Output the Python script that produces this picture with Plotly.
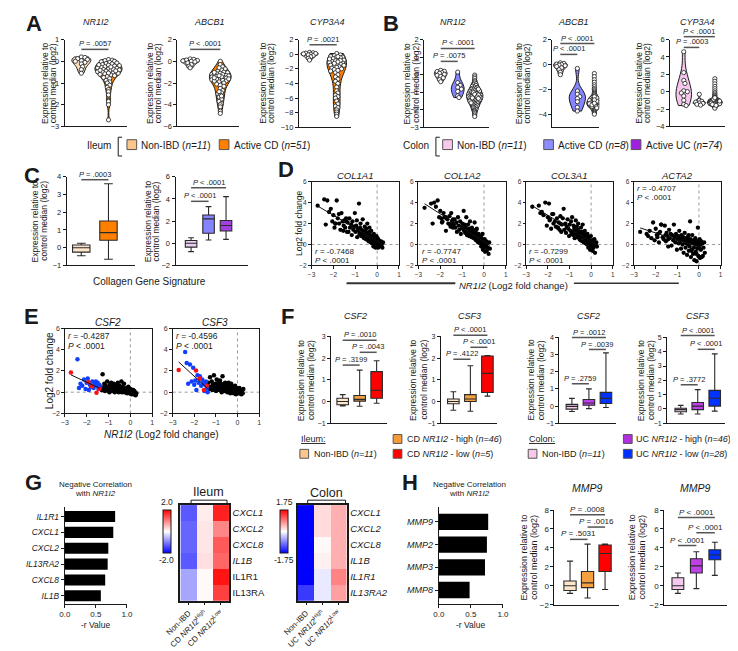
import numpy as np
import plotly.graph_objects as go

# ======================= DATA =======================
# ---- Panel A: ileum, violin (log2 expression vs control median)
A_NR1I2_NONIBD = [0.2, 0.18, 0.12, 0.08, 0.03, 0.0, -0.05, -0.12, -0.25, -0.38, -0.55]
A_NR1I2_CD = [0.08, 0.05, 0.03, 0.0, -0.02, -0.05, -0.08, -0.1, -0.12, -0.15, -0.18, -0.2, -0.22,
              -0.25, -0.28, -0.3, -0.32, -0.35, -0.38, -0.4, -0.42, -0.45, -0.48, -0.5, -0.52,
              -0.55, -0.58, -0.6, -0.63, -0.66, -0.7, -0.36, -0.44, -0.26, -0.16, -0.54, -0.75,
              -0.8, -0.88, -0.95, -1.0, -1.1, -1.2, -1.3, -1.4, -1.55, -1.8, -1.85, -2.0, -2.7, -0.41]
A_ABCB1_NONIBD = [0.22, 0.18, 0.12, 0.08, 0.04, 0.0, -0.05, -0.15, -0.3, -0.45, -0.6]
A_ABCB1_CD = [0.0, -0.3, -0.5, -0.7, -0.8, -0.9, -1.0, -1.05, -1.1, -1.15, -1.2, -1.25, -1.3, -1.35,
              -1.4, -1.45, -1.5, -1.55, -1.6, -1.65, -1.7, -1.75, -1.8, -1.9, -2.0, -2.1, -2.2, -2.3,
              -1.22, -1.42, -1.62, -1.02, -1.82, -2.5, -2.7, -2.9, -3.0, -3.1, -3.3, -3.5, -3.7,
              -3.9, -4.0, -4.2, -4.6, -4.8, -1.32, -1.52, -2.8, -3.2, -0.6]
A_CYP3A4_NONIBD = [0.25, 0.2, 0.15, 0.1, 0.05, 0.0, -0.1, -0.2, -0.35, -0.55, -0.8]
A_CYP3A4_CD = [0.1, -0.1, -0.2, -0.3, -0.4, -0.5, -0.6, -0.7, -0.8, -0.9, -1.0, -1.1, -1.2, -1.3,
               -1.4, -1.5, -1.6, -1.7, -1.8, -1.9, -2.0, -2.1, -2.3, -2.5, -0.45, -0.65, -0.85,
               -1.05, -1.25, -2.8, -3.1, -3.4, -3.7, -4.0, -4.5, -5.0, -5.3, -5.6, -5.8, -6.0,
               -6.4, -6.8, -7.1, -7.3, -7.6, -7.9, -8.2, -8.5, -0.32, -1.52, -2.2]

# ---- Panel B: colon, violin
B_NR1I2_NONIBD = [0.25, 0.2, 0.18, 0.12, 0.08, 0.02, -0.03, -0.1, -0.18, -0.28, -0.4]
B_NR1I2_CD = [0.15, -0.45, -0.6, -0.72, -0.82, -0.95, -1.2, -1.3]
B_NR1I2_UC = [-0.02, -0.12, -0.21, -0.33, -0.4, -0.47, -0.52, -0.58, -0.61, -0.66, -0.71, -0.73,
              -0.77, -0.8, -0.84, -0.86, -0.89, -0.91, -0.94, -0.97, -0.99, -1.01, -1.04, -1.06,
              -1.09, -1.11, -1.13, -1.16, -1.18, -1.2, -1.21, -1.24, -1.26, -1.29, -1.31, -1.33,
              -1.36, -1.38, -1.4, -1.43, -1.45, -1.48, -1.5, -1.52, -1.55, -1.58, -1.61, -1.64,
              -1.67, -1.7, -1.73, -1.77, -1.8, -1.84, -1.88, -1.92, -1.97, -2.03, -2.08, -2.15,
              -2.22, -2.3, -2.38, -1.02, -1.12, -1.22, -1.32, -1.42, -0.92, -0.82, -1.15, -1.27,
              -1.35, -1.6]
B_ABCB1_NONIBD = [0.15, 0.1, 0.05, 0.02, -0.03, -0.08, -0.15, -0.25, -0.4, -0.6, -0.8]
B_ABCB1_CD = [-0.3, -2.1, -2.35, -2.55, -2.7, -2.95, -3.4, -3.7]
B_ABCB1_UC = [-0.7, -0.95, -1.2, -1.4, -1.6, -1.75, -1.9, -2.0, -2.1, -2.2, -2.28, -2.35, -2.42,
              -2.48, -2.53, -2.58, -2.62, -2.66, -2.7, -2.73, -2.76, -2.79, -2.82, -2.85, -2.88,
              -2.9, -2.92, -2.95, -2.97, -3.0, -3.02, -3.04, -3.06, -3.08, -3.1, -3.12, -3.14,
              -3.16, -3.18, -3.2, -3.22, -3.24, -3.26, -3.28, -3.3, -3.33, -3.36, -3.39, -3.42,
              -3.46, -3.5, -3.55, -3.6, -3.66, -3.72, -3.8, -3.88, -3.95, -2.86, -2.96, -3.05,
              -3.15, -3.25, -2.75, -2.65, -3.35, -3.45, -2.55, -3.01, -3.11, -2.91, -3.21, -2.81,
              -3.07]
B_CYP3A4_NONIBD = [4.6, 2.2, 1.3, 0.95, 0.1, 0.0, -0.15, -0.5, -1.0, -1.45, -1.6]
B_CYP3A4_CD = [-0.3, -1.0, -1.1, -1.2, -1.3, -1.35, -1.45, -1.55]
B_CYP3A4_UC = [1.5, 1.2, 0.9, 0.6, 0.35, 0.1, -0.1, -0.25, -0.4, -0.5, -0.6, -0.68, -0.75, -0.8,
               -0.85, -0.9, -0.93, -0.96, -0.99, -1.02, -1.05, -1.07, -1.09, -1.11, -1.13, -1.15,
               -1.17, -1.19, -1.21, -1.23, -1.25, -1.27, -1.29, -1.31, -1.33, -1.35, -1.37, -1.39,
               -1.41, -1.43, -1.45, -1.47, -1.5, -1.53, -1.56, -1.6, -1.64, -1.68, -1.72, -1.78,
               -1.85, -1.9, -1.0, -1.1, -1.2, -1.3, -1.4, -1.04, -1.14, -1.24, -1.34, -0.95, -1.46,
               -1.12, -1.22, -1.32, -1.18, -1.28, -1.38, -0.88, -1.08, -1.48, -1.58, -0.7]

# ---- Box statistics: [lower whisker, Q1, median, Q3, upper whisker]
C_ILEUM_BOX = {"Non-IBD": [-0.45, -0.25, 0.0, 0.15, 0.25], "Active CD": [-0.65, 0.42, 0.85, 1.5, 3.6]}
C_COLON_BOX = {"Non-IBD": [-0.75, -0.35, 0.0, 0.25, 0.5], "Active CD": [0.3, 0.9, 2.2, 2.55, 3.3],
               "Active UC": [0.35, 1.1, 1.6, 2.05, 4.2]}
F_CSF2_ILEUM = [[-0.2, -0.15, 0.0, 0.15, 0.32], [-0.22, 0.02, 0.1, 0.28, 1.45], [-0.08, 0.15, 0.52, 1.38, 1.88]]
F_CSF3_ILEUM = [[-0.4, -0.1, 0.0, 0.12, 0.45], [-0.45, 0.0, 0.12, 0.32, 1.65], [0.25, 0.42, 1.3, 2.1, 2.12]]
F_CSF2_COLON = [[-0.32, -0.18, -0.02, 0.1, 0.45], [-0.15, 0.05, 0.18, 0.38, 1.0], [-0.08, 0.15, 0.45, 0.8, 3.1]]
F_CSF3_COLON = [[-0.35, -0.2, -0.05, 0.05, 0.25], [-0.35, -0.05, 0.2, 0.45, 1.35], [-0.15, 0.2, 0.75, 1.3, 3.85]]
H_MMP9_ILEUM = [[-0.8, -0.5, 0.0, 0.5, 2.6], [-1.3, -0.2, 0.3, 1.5, 4.4], [-0.4, 1.5, 3.4, 4.3, 4.4]]
H_MMP9_COLON = [[-0.8, -0.4, 0.0, 0.85, 1.35], [-0.3, 1.35, 2.1, 2.85, 3.6], [1.1, 2.75, 3.25, 3.8, 4.6]]

# ---- Panels D/E: per-sample log2 fold changes (same samples across genes)
SAMPLE_GROUP = ["CD NR1I2-low"] * 5 + ["UC NR1I2-low"] * 20 + ["other"] * 75
NR1I2_FC = [-2.72, -1.92, -1.75, -1.55, -1.42,
            -2.42, -2.35, -2.28, -2.2, -2.12, -2.05, -2.0, -1.95, -1.9, -1.85, -1.8, -1.74, -1.68,
            -1.63, -1.58, -1.53, -1.5, -1.46, -1.42, -1.38,
            -1.35, -1.31, -1.27, -1.24, -1.19, -1.16, -1.13, -1.09, -1.06, -1.02, -0.99, -0.96, -0.93, -0.91, -0.88,
            -0.86, -0.83, -0.81, -0.78, -0.76, -0.73, -0.71, -0.69, -0.66, -0.64, -0.62, -0.6, -0.57, -0.55, -0.53,
            -0.51, -0.49, -0.47, -0.45, -0.43, -0.41, -0.39, -0.37, -0.35, -0.33, -0.31, -0.29, -0.27, -0.25, -0.23,
            -0.21, -0.19, -0.17, -0.15, -0.13, -0.11, -0.09, -0.07, -0.05, -0.03, -0.01, 0.01, 0.03, 0.05, 0.07,
            0.09, 0.11, 0.13, 0.15, 0.18, 0.21, 0.24, 0.27, -0.62, -0.48, -0.35, -0.22, -0.12, -0.04, 0.02]
COL1A1_FC = [3.7, 2.0, 2.9, 1.3, 2.2,
             4.3, 1.9, 4.2, 3.1, 3.4, 2.2, 2.8, 1.6, 2.0, 4.2, 2.5, 2.0, 1.4, 3.0, 2.2, 1.8, 2.3, 1.6, 2.5, 1.2,
             2.1, 1.2, 2.5, 1.6, 1.9, 0.9, 2.2, 1.4, 1.7, 3.0, 1.2, 1.8, 2.3, 0.7, 1.5,
             1.3, 3.9, 1.0, 1.6, 2.0, 0.8, 1.4, 1.1, 2.4, 0.9, 1.3, 0.6, 1.7, 1.0, 1.2,
             0.5, 1.5, 0.9, 2.0, 0.7, 1.1, 0.3, 0.8, 1.6, 0.4, 0.9, 0.2, 1.3, 0.6, 0.1,
             0.7, 0.3, -0.2, 1.0, 0.4, 0.0, 0.6, -0.3, 0.2, 0.8, -0.1, 0.3, 0.5, -0.3, 0.1,
             0.4, -0.2, 0.2, -0.1, 0.3, 0.0, -0.3, 0.2, 0.9, 0.6, 1.2, 0.5, -0.1, 0.4, 0.6]
COL1A2_FC = [3.5, 2.1, 2.6, 1.9, 2.4,
             3.9, 2.0, 4.0, 3.6, 4.2, 2.6, 3.2, 2.5, 2.2, 3.0, 2.6, 1.3, 2.4, 2.0, 2.7, 1.7, 3.0, 2.2, 1.6, 1.9,
             2.4, 1.6, 2.1, 1.2, 2.6, 1.8, 1.4, 2.2, 1.0, 1.7, 2.0, 1.5, 3.2, 1.3, 1.9,
             1.1, 1.6, 2.6, 0.9, 1.4, 1.9, 1.2, 0.8, 1.5, 2.2, 1.0, 1.3, 0.7, 1.6, 1.1,
             0.9, 1.4, 0.6, 1.1, 2.1, 0.7, 1.2, 0.4, 0.9, 1.5, 0.5, 0.8, 0.2, 1.0, 0.6,
             0.3, 0.8, 0.1, 0.5, -0.2, 0.6, 0.2, 1.0, -0.5, 0.4, 0.1, -0.3, 0.5, -0.7, 0.2,
             -0.1, 0.3, -0.6, 0.1, -0.3, -0.9, 0.2, -0.4, 1.2, 0.7, 1.4, 0.2, 0.6, 0.0, -0.2]
COL3A1_FC = [3.6, 2.3, 2.9, 1.6, 2.0,
             3.7, 3.0, 3.1, 2.8, 4.0, 1.8, 2.6, 3.9, 2.4, 1.5, 2.9, 2.0, 2.2, 1.7, 2.5, 1.6, 2.1, 1.4, 2.7, 1.2,
             1.9, 2.5, 3.4, 1.4, 2.0, 1.1, 1.7, 2.4, 1.5, 0.8, 1.9, 1.3, 2.2, 1.0, 2.6,
             1.2, 0.9, 1.8, 1.5, 0.6, 1.3, 2.3, 1.0, 1.7, 0.7, 1.4, 2.0, 0.9, 1.2, 0.5,
             1.1, 0.4, 1.6, 0.8, 1.2, 0.3, 1.9, 0.7, 1.0, 0.2, 0.9, 1.3, 0.5, 0.1, 0.8,
             0.6, 0.0, 1.0, 0.3, -0.3, 0.7, 0.1, 0.4, -0.5, 0.2, 0.8, -0.2, 0.3, 0.0, -0.6,
             0.4, -0.3, 0.1, 0.5, -0.8, 0.0, 0.2, -0.2, 1.3, 0.8, 1.1, 0.6, 0.3, -0.1, 0.4]
ACTA2_FC = [1.2, 0.7, 1.9, 0.9, 0.5,
            1.0, 0.8, 1.3, 0.6, 2.1, 0.4, 1.5, 0.9, 1.0, 0.2, 1.2, 1.9, 0.7, 0.5, 1.8, 0.3, 1.1, 0.8, -0.2, 1.4,
            0.6, 1.0, -0.1, 0.9, 0.4, 1.9, 0.7, 0.2, 1.0, -0.5, 0.5, 0.8, 0.1, 1.3, 0.6,
            0.3, -0.4, 0.9, 0.5, 0.0, 0.7, -0.8, 0.4, 1.1, 0.2, -0.3, 0.6, 0.1, -1.0, 0.5,
            0.0, 0.8, -0.6, 0.3, -0.2, 2.2, 0.5, -1.2, 0.2, -0.5, 0.9, 0.1, -0.9, 0.4, -0.3,
            -1.5, 0.2, 0.6, -0.7, 0.0, -1.6, 0.3, -0.4, 1.6, -1.1, 0.1, -0.2, 0.5, -1.3, 0.0,
            -0.5, 0.3, -1.2, 0.1, -1.1, -0.3, 0.2, -0.8, 0.4, 0.9, -0.6, 0.2, -0.9, 0.3, -1.2]
CSF2_FC = [1.85, 0.95, 0.55, -0.05, 0.3,
           3.1, 0.4, 0.8, 0.6, 1.2, 0.3, 0.9, 1.3, 0.2, 0.7, 0.5, 1.0, 0.4, 0.8, 1.0, 0.6, 0.9, 0.3, 0.7, 0.5,
           0.5, 0.2, 1.7, 0.4, 0.8, 0.1, 0.6, 0.3, 1.0, 0.2, 0.5, 0.0, 0.7, 0.3, 0.9,
           0.4, 0.1, 0.6, 0.2, 0.8, 0.3, 0.0, 0.5, 0.2, 0.7, 0.1, 0.4, 0.9, 0.2, 0.0,
           0.3, 0.6, 0.1, 0.4, 0.2, 1.0, 0.0, 0.3, 0.5, 0.1, 0.2, 0.8, 0.0, 0.3, 0.1,
           0.2, 0.0, 0.4, -0.1, 0.3, 0.1, 0.5, 0.0, 0.2, -0.1, 0.1, 0.3, 0.0, -0.2, 0.1,
           0.0, -0.1, 0.2, -0.2, 0.1, 0.0, -0.3, -0.1, 0.4, 0.3, 0.2, 0.1, 0.0, 0.2, -0.1]
CSF3_FC = [2.1, 2.05, 1.3, 0.2, 0.6,
           3.8, 2.75, 0.8, 2.6, 1.0, 2.3, 0.7, 1.1, 0.2, 1.6, 0.9, 1.5, 0.6, 1.2, 0.9, 0.1, 0.7, 1.0, 0.4, 0.0,
           0.9, 0.3, 1.4, 0.5, 1.0, 0.2, 0.7, 1.6, 0.4, 0.8, 0.1, 1.2, 0.5, 0.3, 0.9,
           0.6, 0.2, 1.1, 0.4, 0.8, 0.0, 0.5, 1.5, 0.3, 0.7, 0.1, 0.6, 0.9, 0.2, 0.4,
           0.3, 0.7, 0.0, 0.5, 0.2, 0.9, 0.1, 0.4, 0.6, -0.1, 0.3, 0.8, 0.1, 0.4, 0.2,
           0.1, 0.5, -0.1, 0.3, 0.0, 0.6, 0.2, -0.2, 0.4, 0.1, 0.0, 0.3, -0.1, 0.2, 0.0,
           0.4, -0.1, 0.2, 0.0, -0.2, 0.1, -0.1, 0.3, 0.5, 0.3, 0.6, 0.2, 0.1, -0.1, 0.0]
D_STATS = {"COL1A1": ("-0.7468", "< .0001"), "COL1A2": ("-0.7747", "< .0001"),
           "COL3A1": ("-0.7299", "< .0001"), "ACTA2": ("-0.4707", "< .0001")}
E_STATS = {"CSF2": ("-0.4287", "< .0001"), "CSF3": ("-0.4596", "< .0001")}

# ---- Panel G / H: negative correlation with NR1I2 (-r)
G_GENES = ["IL1R1", "CXCL1", "CXCL2", "IL13RA2", "CXCL8", "IL1B"]
G_NEG_R = [0.81, 0.78, 0.70, 0.69, 0.65, 0.58]
H_GENES = ["MMP9", "MMP2", "MMP3", "MMP8"]
H_NEG_R = [0.77, 0.75, 0.72, 0.48]

# ---- Heatmaps (rows = genes, cols = Non-IBD, NR1I2-high, NR1I2-low)
HEAT_ILEUM_ROWS = ["<i>CXCL1</i>", "<i>CXCL2</i>", "<i>CXCL8</i>", "<i>IL1B</i>", "IL1R1", "IL13RA"]
HEAT_ILEUM = [[-1.3, 0.15, 1.75], [-1.2, 0.2, 0.95], [-1.2, 0.2, 1.3],
              [-1.3, 0.25, 1.2], [-0.7, 0.05, 1.85], [-0.7, 0.05, 1.5]]
HEAT_COLON_ROWS = ["<i>CXCL1</i>", "<i>CXCL2</i>", "<i>CXCL8</i>", "<i>IL1B</i>", "<i>IL1R1</i>", "<i>IL13RA2</i>"]
HEAT_COLON = [[-1.75, 0.25, 0.55], [-1.75, 0.25, 0.55], [-1.75, 0.05, 0.55],
              [-1.75, 0.1, 0.55], [-1.75, -0.15, 0.85], [-1.35, -0.15, 0.65]]
HEAT_ILEUM_COLS = ["Non-IBD", "CD <i>NR1I2</i><sup>High</sup>", "CD <i>NR1I2</i><sup>Low</sup>"]
HEAT_COLON_COLS = ["Non-IBD", "UC <i>NR1I2</i><sup>High</sup>", "UC <i>NR1I2</i><sup>Low</sup>"]

# ======================= FIGURE =======================
W, H = 738, 651
FONT = "Liberation Sans, Arial, Helvetica, sans-serif"
INK = "#1a1a1a"
GRAYLINE = "#555555"
fig = go.Figure()
AX = {}


def axis_style(**kw):
    d = dict(showgrid=False, zeroline=False, showline=True, linecolor=INK, linewidth=1,
             ticks="outside", ticklen=3, tickwidth=1, tickcolor=INK,
             tickfont=dict(size=7.5, family=FONT, color=INK), fixedrange=True)
    d.update(kw)
    return d


def make_axes(name, xpx, ypx, xr, yr, xkw=None, ykw=None):
    i = len(AX) + 1
    s = "" if i == 1 else str(i)
    xa = axis_style(domain=[xpx[0] / W, xpx[1] / W], anchor="y" + s, range=xr)
    ya = axis_style(domain=[1 - ypx[1] / H, 1 - ypx[0] / H], anchor="x" + s, range=yr)
    if xkw:
        xa.update(xkw)
    if ykw:
        ya.update(ykw)
    fig.update_layout({"xaxis" + s: xa, "yaxis" + s: ya})
    AX[name] = dict(x="x" + s, y="y" + s, xpx=xpx, ypx=ypx, xr=xr, yr=yr)
    return AX[name]


def to_px(name, xv, yv):
    a = AX[name]
    x0, x1 = a["xpx"]
    y0, y1 = a["ypx"]
    xr, yr = a["xr"], a["yr"]
    px = x0 + (xv - xr[0]) / (xr[1] - xr[0]) * (x1 - x0)
    py = y1 - (yv - yr[0]) / (yr[1] - yr[0]) * (y1 - y0)
    return px, py


def text(px, py, s, size=8, xanchor="center", yanchor="middle", angle=0, color=INK):
    fig.add_annotation(x=px / W, y=1 - py / H, xref="paper", yref="paper", text=s, showarrow=False,
                       font=dict(size=size, family=FONT, color=color), xanchor=xanchor,
                       yanchor=yanchor, textangle=angle, borderpad=0)


def line(x0, y0, x1, y1, color=INK, width=1, dash=None):
    fig.add_shape(type="line", xref="paper", yref="paper", x0=x0 / W, y0=1 - y0 / H,
                  x1=x1 / W, y1=1 - y1 / H, line=dict(color=color, width=width, dash=dash))


def rect(x0, y0, x1, y1, fill, lc="#555555"):
    fig.add_shape(type="rect", xref="paper", yref="paper", x0=x0 / W, x1=x1 / W,
                  y0=1 - y1 / H, y1=1 - y0 / H, fillcolor=fill, line=dict(color=lc, width=1))


def bracket(name, c0, c1, yv, label, size=7.5):
    x0, py = to_px(name, c0, yv)
    x1, _ = to_px(name, c1, yv)
    line(x0, py, x1, py, color=GRAYLINE, width=1.5)
    text((x0 + x1) / 2, py - 5.5, label, size=size)


def ytitle2(xc, yc, size=8.5, gap=8.5):
    text(xc - gap / 2, yc, "Expression relative to", size=size, angle=-90)
    text(xc + gap / 2, yc, "control median (log2)", size=size, angle=-90)


CAT_X = dict(ticks="", showticklabels=False)


def violin_profile(vals, width):
    """Half-width of the violin (same Gaussian KDE rule plotly uses) as a function of y."""
    v = np.asarray(vals, float)
    n = len(v)
    sd = v.std(ddof=1)
    q1, q3 = np.percentile(v, [25, 75])
    iqr = (q3 - q1) / 1.349
    bw = 1.059 * (min(sd, iqr) if iqr > 0 else sd) * n ** -0.2

    def dens(y):
        y = np.atleast_1d(y)
        return np.exp(-0.5 * ((y[None, :] - v[:, None]) / bw) ** 2).sum(0)

    mx = dens(np.linspace(v.min(), v.max(), 300)).max()
    return lambda y: 0.5 * width * float(dens(y)[0]) / mx


def swarm_x(name, center, vals, width, dmin=3.1):
    """Deterministic beeswarm layout (pixel space), kept inside the violin outline."""
    a = AX[name]
    sx = (a["xpx"][1] - a["xpx"][0]) / (a["xr"][1] - a["xr"][0])
    sy = (a["ypx"][1] - a["ypx"][0]) / (a["yr"][1] - a["yr"][0])
    prof = violin_profile(vals, width)
    yv = np.asarray(vals, float)
    ys = yv * sy
    order = np.argsort(-ys, kind="stable")
    step = dmin * 0.4
    placed = []
    out = np.zeros(len(ys))
    for i in order:
        hw = max(prof(yv[i]) * sx - 1.8, 0.0)
        cands = [0.0]
        j = 1
        while j * step <= hw:
            cands += [j * step, -j * step]
            j += 1
        best, bestd = 0.0, -1.0
        for off in cands:
            d = min([np.hypot(off - px, ys[i] - py) for px, py in placed] or [1e9])
            if d >= dmin:
                best = off
                break
            if d > bestd:
                bestd, best = d, off
        placed.append((best, ys[i]))
        out[i] = center + best / sx
    return out


def violin_panel(name, xpx, ypx, xr, yr, dtick, groups, fills, widths):
    ax = make_axes(name, xpx, ypx, xr, yr, xkw=CAT_X, ykw=dict(tick0=0, dtick=dtick))
    for i, (vals, col, wd) in enumerate(zip(groups, fills, widths)):
        fig.add_trace(go.Violin(x=[i] * len(vals), y=vals, xaxis=ax["x"], yaxis=ax["y"],
                                fillcolor=col, line=dict(color=INK, width=1), points=False,
                                spanmode="hard", width=wd, hoverinfo="skip", showlegend=False))
    for i, (vals, wd) in enumerate(zip(groups, widths)):
        fig.add_trace(go.Scatter(x=swarm_x(name, i, vals, wd), y=vals, mode="markers",
                                 xaxis=ax["x"], yaxis=ax["y"],
                                 marker=dict(color="white", size=4.2, line=dict(color=INK, width=0.8)),
                                 hoverinfo="skip", showlegend=False))
    return ax


def box_panel(name, xpx, ypx, xr, yr, dtick, stats, fills, bw, tsize=7.5):
    ax = make_axes(name, xpx, ypx, xr, yr, xkw=CAT_X,
                   ykw=dict(tick0=0, dtick=dtick, tickfont=dict(size=tsize, family=FONT, color=INK)))
    for i, (st, col) in enumerate(zip(stats, fills)):
        fig.add_trace(go.Box(x=[i], lowerfence=[st[0]], q1=[st[1]], median=[st[2]], q3=[st[3]],
                             upperfence=[st[4]], xaxis=ax["x"], yaxis=ax["y"], fillcolor=col,
                             line=dict(color="#2a2a2a", width=1.1), width=bw, whiskerwidth=0.5,
                             boxpoints=False, hoverinfo="skip", showlegend=False))
    return ax


# ---------------- Panel A ----------------
text(11, 12, "<b>A</b>", size=22)
ILEUM_FILLS = ["#FCDDBA", "#FF8000"]
violin_panel("A1", (43, 107), (28, 116), [-0.61, 1.68], [-3, 1], 1,
             [A_NR1I2_NONIBD, A_NR1I2_CD], ILEUM_FILLS, [0.7, 1.0])
violin_panel("A2", (159, 222), (28, 116), [-0.42, 1.61], [-6, 2], 2,
             [A_ABCB1_NONIBD, A_ABCB1_CD], ILEUM_FILLS, [0.62, 0.72])
violin_panel("A3", (284, 338), (28, 117), [-0.39, 1.54], [-10, 2], 2,
             [A_CYP3A4_NONIBD, A_CYP3A4_CD], ILEUM_FILLS, [0.65, 0.72])
for xc, t in [(75, "NR1I2"), (192, "ABCB1"), (313, "CYP3A4")]:
    text(xc, 10, f"<i>{t}</i>", size=9)
for xc in (27, 135, 251):
    ytitle2(xc, 72)
bracket("A1", 0, 1, 0.55, "<i>P</i> = .0057")
bracket("A2", 0, 1, 1.1, "<i>P</i> < .0001")
bracket("A3", 0, 1, 1.3, "<i>P</i> = .0021")

# legend A
text(92, 135, "Ileum", size=10, xanchor="right")
line(98, 127, 98, 146, width=1)
line(98, 127, 102, 127, width=1)
line(98, 146, 102, 146, width=1)
rect(107, 129.5, 117, 139.5, "#FBC58C")
text(120, 135, "Non-IBD (<i>n=11</i>)", size=10, xanchor="left")
rect(202, 129.5, 212, 139.5, "#FF8000")
text(216, 135, "Active CD (<i>n=51</i>)", size=10, xanchor="left")

# ---------------- Panel B ----------------
text(379, 12, "<b>B</b>", size=22)
COLON_FILLS = ["#F7C6EC", "#8585FF", "#A020F0"]
violin_panel("B1", (413, 480), (28, 117), [-0.97, 2.86], [-3, 2], 1,
             [B_NR1I2_NONIBD, B_NR1I2_CD, B_NR1I2_UC], COLON_FILLS, [0.75, 0.75, 0.95])
violin_panel("B2", (545, 593), (28, 117), [-0.46, 2.28], [-5, 2], 2,
             [B_ABCB1_NONIBD, B_ABCB1_CD, B_ABCB1_UC], COLON_FILLS, [0.82, 0.95, 0.9])
violin_panel("B3", (666, 723), (28, 116), [-0.88, 2.68], [-4, 6], 2,
             [B_CYP3A4_NONIBD, B_CYP3A4_CD, B_CYP3A4_UC], COLON_FILLS, [1.0, 0.78, 0.98])
for xc, t in [(443, "NR1I2"), (567, "ABCB1"), (694, "CYP3A4")]:
    text(xc, 10, f"<i>{t}</i>", size=9)
for xc in (400, 515, 638):
    ytitle2(xc, 72)
bracket("B1", 0, 2, 1.5, "<i>P</i> < .0001")
bracket("B1", 0, 1, 0.76, "<i>P</i> = .0075")
bracket("B2", 0, 2, 1.69, "<i>P</i> < .0001")
bracket("B2", 0, 1, 0.82, "<i>P</i> < .0001")
bracket("B3", 0, 2, 6.34, "<i>P</i> < .0001")
bracket("B3", 0, 1, 5.1, "<i>P</i> = .0003")

# legend B
text(419, 135, "Colon", size=10, xanchor="right")
line(425, 127, 425, 146, width=1)
line(425, 127, 429, 127, width=1)
line(425, 146, 429, 146, width=1)
rect(432, 129.5, 442, 139.5, "#F9C9EC")
text(446, 135, "Non-IBD (<i>n=11</i>)", size=10, xanchor="left")
rect(536, 129.5, 546, 139.5, "#8D8DFF")
text(550, 135, "Active CD (<i>n=8</i>)", size=10, xanchor="left")
rect(626, 129.5, 636, 139.5, "#A020E0")
text(640, 135, "Active UC (<i>n=74</i>)", size=10, xanchor="left")

# ---------------- Panel C ----------------
text(9, 166, "<b>C</b>", size=22)
box_panel("C1", (45, 115), (167, 257), [-0.535, 1.965], [-1, 4], 1,
          list(C_ILEUM_BOX.values()), ["#FDE6CC", "#FF8000"], 0.64)
box_panel("C2", (157, 232), (167, 257), [-0.89, 3.28], [-2, 6], 2,
          list(C_COLON_BOX.values()), ["#EBD0F2", "#8484FF", "#A040E0"], 0.66)
ytitle2(17, 212)
ytitle2(133, 212)
bracket("C1", 0, 1, 3.83, "<i>P</i> = .0003")
bracket("C2", 0, 2, 5.0, "<i>P</i> < .0001")
bracket("C2", 0, 1, 3.78, "<i>P</i> < .0001")
text(130, 273, "Collagen Gene Signature", size=10)

# ---------------- Panel D ----------------
text(271, 160, "<b>D</b>", size=22)


def scatter_panel(name, xpx, ypx, xr, ys, stat, stat_top, fit_low=False, colored=False, tsize=6.5):
    ax = make_axes(name, xpx, ypx, xr, [-2, 6],
                   xkw=dict(mirror=True, tickvals=[-3, -2, -1, 0, 1], ticklen=2.5,
                            tickfont=dict(size=tsize, family=FONT, color="#333")),
                   ykw=dict(mirror=True, tickvals=[-2, 0, 2, 4, 6], ticklen=2.5,
                            tickfont=dict(size=tsize, family=FONT, color="#333")))
    fig.add_shape(type="line", xref=ax["x"], yref=ax["y"], x0=0, x1=0, y0=-2, y1=6, layer="below",
                  line=dict(color="#999999", width=1, dash="dot"))
    fig.add_shape(type="line", xref=ax["x"], yref=ax["y"], x0=xr[0], x1=xr[1], y0=0, y1=0,
                  layer="below", line=dict(color="#999999", width=1, dash="dot"))
    xs = np.array(NR1I2_FC)
    yv = np.array(ys)
    grp = np.array(SAMPLE_GROUP)
    if colored:
        for g, c in [("other", "#000000"), ("UC NR1I2-low", "#1040FF"), ("CD NR1I2-low", "#FF1010")]:
            m = grp == g
            fig.add_trace(go.Scatter(x=xs[m], y=yv[m], mode="markers", xaxis=ax["x"], yaxis=ax["y"],
                                     marker=dict(color=c, size=4.5), hoverinfo="skip", showlegend=False))
    else:
        fig.add_trace(go.Scatter(x=xs, y=yv, mode="markers", xaxis=ax["x"], yaxis=ax["y"],
                                 marker=dict(color="#000000", size=4.3), hoverinfo="skip", showlegend=False))
    if fit_low:
        m = grp != "other"
        fx, fy = xs[m], yv[m]
    else:
        fx, fy = xs, yv
    k, b = np.polyfit(fx, fy, 1)
    lx = np.array([fx.min(), fx.max()])
    fig.add_trace(go.Scatter(x=lx, y=k * lx + b, mode="lines", xaxis=ax["x"], yaxis=ax["y"],
                             line=dict(color="#111111", width=1), hoverinfo="skip", showlegend=False))
    r, p = stat
    tx, _ = to_px(name, xr[0] + 0.1, 0)
    if stat_top:
        _, py1 = to_px(name, 0, 5.3)
    else:
        _, py1 = to_px(name, 0, -0.7)
    fs = 8.5 if colored else 8
    gap = 10.5 if colored else 9
    text(tx, py1, f"<i>r</i> = {r}", size=fs, xanchor="left")
    text(tx, py1 + gap, f"<i>P</i> {p}", size=fs, xanchor="left")
    return ax


D_PANELS = [("COL1A1", COL1A1_FC, (297, 387)), ("COL1A2", COL1A2_FC, (407, 497)),
            ("COL3A1", COL3A1_FC, (518, 607)), ("ACTA2", ACTA2_FC, (629, 718))]
for gname, ys, xpx in D_PANELS:
    scatter_panel("D_" + gname, xpx, (172, 257), [-3, 1], ys, D_STATS[gname], gname == "ACTA2")
    text((xpx[0] + xpx[1]) / 2, 166, f"<i>{gname}</i>", size=9.5)
text(284, 214, "Log2 fold change", size=8.5, angle=-90)
text(505, 277, "<i>NR1I2</i> (Log2 fold change)", size=9.5)
line(333, 275, 445, 275, color="#333333", width=2)
line(567, 275, 675, 275, color="#333333", width=1.5)

# ---------------- Panel E ----------------
text(9, 309, "<b>E</b>", size=22)
scatter_panel("E_CSF2", (43, 133), (321, 407), [-3, 1], CSF2_FC, E_STATS["CSF2"], True,
              fit_low=True, colored=True, tsize=7)
scatter_panel("E_CSF3", (154, 243), (321, 407), [-3, 1], CSF3_FC, E_STATS["CSF3"], True,
              fit_low=True, colored=True, tsize=7)
text(88, 315, "<i>CSF2</i>", size=10)
text(198, 315, "<i>CSF3</i>", size=10)
text(28, 364, "Log2 fold change", size=10, angle=-90)
text(143, 428, "<i>NR1I2</i> (Log2 fold change)", size=10)

# ---------------- Panel F ----------------
text(272, 309, "<b>F</b>", size=22)
F_ILEUM_FILLS = ["#FDE6CC", "#F5A040", "#FF0000"]
F_COLON_FILLS = ["#F5C8EE", "#C040E8", "#0033FF"]
box_panel("F1", (317, 375), (329, 417), [-0.69, 2.63], [-1, 3], 1, F_CSF2_ILEUM, F_ILEUM_FILLS, 0.68, 7)
box_panel("F2", (430, 488), (329, 417), [-0.74, 2.57], [-1, 3], 1, F_CSF3_ILEUM, F_ILEUM_FILLS, 0.68, 7)
box_panel("F3", (552, 610), (330, 417), [-0.74, 2.57], [-1, 4], 1, F_CSF2_COLON, F_COLON_FILLS, 0.68, 7)
box_panel("F4", (663, 723), (330, 417), [-0.8, 2.63], [-1, 5], 1, F_CSF3_COLON, F_COLON_FILLS, 0.68, 7)
for xc, t in [(342, "CSF2"), (460, "CSF3"), (582, "CSF2"), (694, "CSF3")]:
    text(xc, 308, f"<i>{t}</i>", size=9)
for xc in (291, 407, 528, 641):
    ytitle2(xc, 373, size=8.5, gap=11)
bracket("F1", 0, 2, 2.82, "<i>P</i> = .0010")
bracket("F1", 1, 2, 2.27, "<i>P</i> = .0043")
bracket("F1", 0, 1, 1.68, "<i>P</i> = .3199")
bracket("F2", 0, 2, 3.05, "<i>P</i> < .0001")
bracket("F2", 1, 2, 2.5, "<i>P</i> < .0001")
bracket("F2", 0, 1, 1.95, "<i>P</i> = .4122")
bracket("F3", 0, 2, 4.0, "<i>P</i> = .0012")
bracket("F3", 1, 2, 3.3, "<i>P</i> = .0039")
bracket("F3", 0, 1, 1.3, "<i>P</i> = .2759")
bracket("F4", 0, 2, 5.14, "<i>P</i> < .0001")
bracket("F4", 1, 2, 4.17, "<i>P</i> < .0001")
bracket("F4", 0, 1, 1.69, "<i>P</i> = .3772")

# legend F
LF = 9
text(285, 433, "<u>Ileum:</u>", size=LF, xanchor="left")
rect(381, 428.5, 390, 437.5, "#F59B3A")
text(394, 433, "CD <i>NR1I2</i> - high (<i>n=46</i>)", size=LF, xanchor="left")
rect(285, 443.5, 294, 452.5, "#FBC58C")
text(298, 448, "Non-IBD (<i>n=11</i>)", size=LF, xanchor="left")
rect(381, 443.5, 390, 452.5, "#FF0000")
text(394, 448, "CD <i>NR1I2</i> - low (<i>n=5</i>)", size=LF, xanchor="left")
text(520, 433, "<u>Colon:</u>", size=LF, xanchor="left")
rect(618, 428.5, 627, 437.5, "#B030E0")
text(630, 433, "UC <i>NR1I2</i> - high (<i>n=46</i>)", size=LF, xanchor="left")
rect(520, 443.5, 529, 452.5, "#F8C8EC")
text(533, 448, "Non-IBD (<i>n=11</i>)", size=LF, xanchor="left")
rect(618, 443.5, 627, 452.5, "#0030FF")
text(630, 448, "UC <i>NR1I2</i> - low (<i>n=28</i>)", size=LF, xanchor="left")

# ---------------- Panel G ----------------
text(11, 477, "<b>G</b>", size=22)


def bar_panel(name, xpx, ypx, genes, vals, yr, bw, lsize):
    n = len(genes)
    ax = make_axes(name, xpx, ypx, [0, 1.0], yr,
                   xkw=dict(tickvals=[0, 0.5, 1.0], ticktext=["0.0", "0.5", "1.0"],
                            tickfont=dict(size=8, family=FONT, color=INK)),
                   ykw=dict(tickvals=list(range(n)), ticktext=[f"<i>{g}</i>" for g in genes],
                            tickfont=dict(size=lsize, family=FONT, color=INK)))
    fig.add_trace(go.Bar(x=vals, y=list(range(n)), orientation="h", xaxis=ax["x"], yaxis=ax["y"],
                         marker=dict(color="#000000", line=dict(width=0)), width=bw,
                         hoverinfo="skip", showlegend=False))
    return ax


bar_panel("G_bar", (43, 107), (502, 600), G_GENES, G_NEG_R, [5.5, -0.6], 0.7, 8.5)
text(75, 479, "Negative Correlation", size=8)
text(75, 488, "with <i>NR1I2</i>", size=8)
text(75, 622, "-r Value", size=8.5)

CSCALE = [[0, "#0000FF"], [0.5, "#FFFFFF"], [1, "#FF0000"]]


def heat_panel(name, xpx, ypx, z, rows, cols, zmax, cbx):
    ax = make_axes(name, xpx, ypx, [-0.5, 2.5], [5.5, -0.5],
                   xkw=dict(mirror=True, linewidth=1.5, tickvals=[0, 1, 2], ticktext=cols,
                            tickangle=-45, tickfont=dict(size=8, family=FONT, color=INK)),
                   ykw=dict(mirror=True, linewidth=1.5, side="right", tickvals=list(range(6)),
                            ticktext=rows, ticks="", tickfont=dict(size=9.5, family=FONT, color=INK)))
    fig.add_trace(go.Heatmap(z=z, x=[0, 1, 2], y=list(range(6)), xaxis=ax["x"], yaxis=ax["y"],
                             zmin=-zmax, zmax=zmax, colorscale=CSCALE, hoverinfo="skip",
                             colorbar=dict(x=cbx / W, xanchor="left", y=1 - 526.5 / H, yanchor="middle",
                                           len=43, lenmode="pixels", thickness=8, thicknessmode="pixels",
                                           outlinewidth=1, outlinecolor=INK, showticklabels=False,
                                           ticks="", xpad=0, ypad=0)))
    return ax


heat_panel("G_ileum", (162, 212), (500, 597), HEAT_ILEUM, HEAT_ILEUM_ROWS, HEAT_ILEUM_COLS, 2.0, 144)
heat_panel("G_colon", (283, 333), (500, 597), HEAT_COLON, HEAT_COLON_ROWS, HEAT_COLON_COLS, 1.75, 265)
text(148, 497, "2.0", size=8.5)
text(148, 556, "-2.0", size=8.5)
text(269, 497, "1.75", size=8.5)
text(269, 556, "-1.75", size=8.5)
text(191, 487, "Ileum", size=12.5)
line(173, 495, 210, 495, width=1)
line(173, 495, 173, 499, width=1)
line(210, 495, 210, 499, width=1)
text(312, 488, "Colon", size=12.5)
line(293, 495, 332, 495, width=1)
line(293, 495, 293, 499, width=1)
line(332, 495, 332, 499, width=1)

# ---------------- Panel H ----------------
text(398, 477, "<b>H</b>", size=22)
bar_panel("H_bar", (428, 494), (502, 600), H_GENES, H_NEG_R, [3.6, -0.65], 0.72, 9)
text(460, 479, "Negative Correlation", size=8)
text(460, 488, "with <i>NR1I2</i>", size=8)
text(461, 622, "-r Value", size=8.5)
box_panel("H1", (547, 613), (505, 601), [-0.89, 2.77], [-2, 8], 2, H_MMP9_ILEUM, F_ILEUM_FILLS, 0.7, 8)
box_panel("H2", (660, 725), (505, 601), [-0.74, 2.68], [-2, 8], 2, H_MMP9_COLON, F_COLON_FILLS, 0.64, 8)
text(581, 483, "<i>MMP9</i>", size=10.5)
text(692, 483, "<i>MMP9</i>", size=10.5)
ytitle2(521, 553, size=9, gap=10.5)
ytitle2(632, 553, size=9, gap=10.5)
bracket("H1", 0, 2, 7.5, "<i>P</i> = .0008", size=8)
bracket("H1", 1, 2, 6.2, "<i>P</i> = .0016", size=8)
bracket("H1", 0, 1, 4.9, "<i>P</i> = .5031", size=8)
bracket("H2", 0, 2, 7.2, "<i>P</i> < .0001", size=8)
bracket("H2", 1, 2, 5.6, "<i>P</i> < .0001", size=8)
bracket("H2", 0, 1, 4.25, "<i>P</i> < .0001", size=8)

fig.update_layout(width=W, height=H, margin=dict(l=0, r=0, t=0, b=0),
                  paper_bgcolor="white", plot_bgcolor="white", showlegend=False,
                  font=dict(family=FONT, color=INK), violinmode="overlay", boxmode="overlay")
fig.write_html("out.html")
